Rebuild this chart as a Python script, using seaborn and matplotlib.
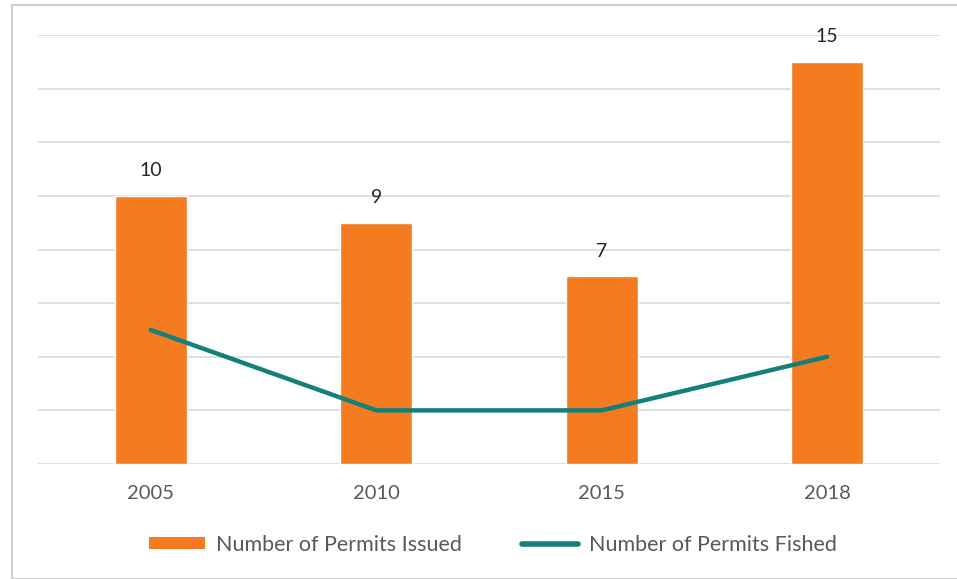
import matplotlib
matplotlib.use("Agg")
import matplotlib.pyplot as plt
import seaborn as sns
import numpy as np
import pandas as pd
from matplotlib.patches import Patch, Rectangle
from matplotlib.lines import Line2D

years = ["2005", "2010", "2015", "2018"]
permits_issued = [10, 9, 7, 15]
permits_fished = [5, 2, 2, 4]

orange = "#F47B20"
teal = "#13807A"
textc = "#595959"

sns.set_theme(style="white")
plt.rcParams['font.family'] = ['Lato', 'DejaVu Sans']

fig = plt.figure(figsize=(9.57, 5.79), dpi=100)
ax = fig.add_axes([38/957, 1-464/579, (940-38)/957, (464-35)/579])

df = pd.DataFrame({"year": years, "issued": permits_issued, "fished": permits_fished})
sns.barplot(data=df, x="year", y="issued", color=orange, width=0.32, ax=ax,
            saturation=1, zorder=2)
sns.lineplot(x=np.arange(len(years)), y=permits_fished, color=teal, linewidth=3.2,
             ax=ax, zorder=3)

for i, v in enumerate(permits_issued):
    ax.text(i, v + 0.62, str(v), ha="center", va="bottom", fontsize=14, color="#262626")

ax.set_xlim(-0.5, 3.5)
ax.set_ylim(0, 16)
ax.set_yticks(np.arange(0, 17, 2))
ax.set_yticklabels([])
ax.tick_params(axis="y", length=0)
ax.tick_params(axis="x", length=0, labelsize=14.5, colors=textc, pad=15)
ax.grid(axis="y", color="#D9D9D9", linewidth=1.2, zorder=0)
ax.set_axisbelow(True)
for s in ax.spines.values():
    s.set_visible(False)
ax.set_xlabel("")
ax.set_ylabel("")

handles = [Patch(facecolor=orange, edgecolor="none"),
           Line2D([0], [0], color=teal, linewidth=4, solid_capstyle="round")]
fig.legend(handles, ["Number of Permits Issued", "Number of Permits Fished"],
           loc="center", bbox_to_anchor=(0.515, 1-545/579), ncol=2, frameon=False,
           fontsize=15.5, labelcolor=textc, handlelength=2.6, handleheight=0.5,
           handletextpad=0.5, columnspacing=2.8)

fig.patches.append(Rectangle((12/957, 0), 1, 1-5/579, transform=fig.transFigure,
                             fill=False, edgecolor="#D0D0D0", linewidth=1.5))

fig.savefig("out.png", dpi=100)
